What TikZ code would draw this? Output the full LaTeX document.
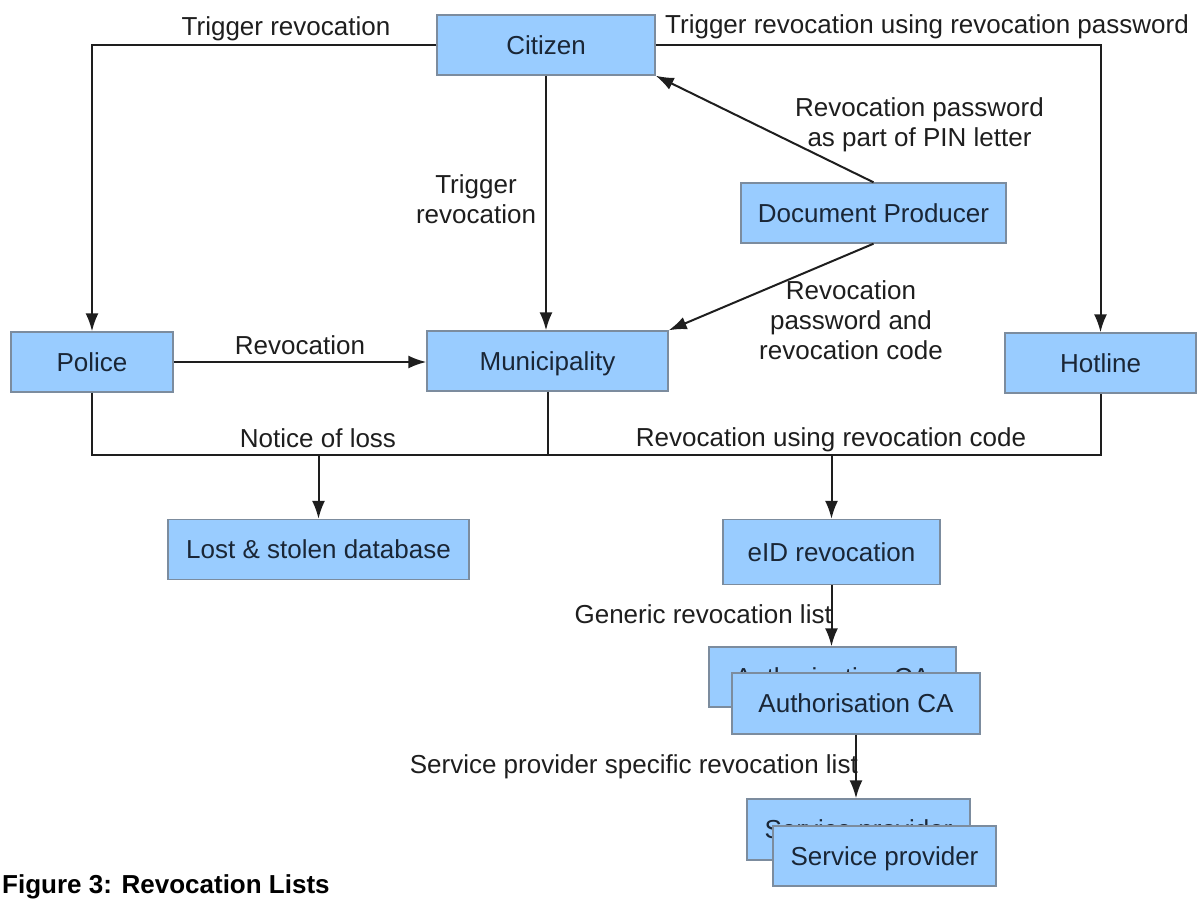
\documentclass[tikz,border=0pt]{standalone}
\usepackage{fontspec}
\setmainfont{Liberation Sans}
\usetikzlibrary{arrows.meta}
\definecolor{boxfill}{HTML}{99CCFF}
\definecolor{boxline}{HTML}{7C8C9E}
\definecolor{ink}{HTML}{1E1E1E}
\definecolor{boxink}{HTML}{1A2636}
\begin{document}
\begin{tikzpicture}[x=1pt,y=-1pt,
  box/.style={draw=boxline, fill=boxfill, line width=1.4pt, inner sep=0pt,
    text=boxink, font=\fontsize{26}{30}\selectfont, text height=18.7pt, text depth=0pt},
  conn/.style={draw=ink, line width=2pt},
  arr/.style={conn, -{Latex[length=18pt,width=13pt]}},
  lbl/.style={inner sep=0pt, text=ink, font=\fontsize{26}{30}\selectfont},
  mlbl/.style={lbl, align=center}]
\useasboundingbox (0,0) rectangle (1204,900);

% boxes
\node[box, minimum width=218pt, minimum height=60pt] (cit) at (546,45) {Citizen};
\node[box, minimum width=265pt, minimum height=60pt] (doc) at (873.5,213) {Document Producer};
\node[box, minimum width=162pt, minimum height=60pt] (pol) at (92,362) {Police};
\node[box, minimum width=241pt, minimum height=60pt] (mun) at (547.5,361) {Municipality};
\node[box, minimum width=191pt, minimum height=60pt] (hot) at (1100.5,363) {Hotline};
\node[box, minimum width=301pt, minimum height=60pt] (lost) at (318.5,549.5) {Lost \& stolen database};
\node[box, minimum width=217pt, minimum height=65pt] (eid) at (831.5,552) {eID revocation};
\node[box, minimum width=247pt, minimum height=60pt] (caA) at (832.5,677) {Authorisation CA};
\node[box, minimum width=248pt, minimum height=61pt] (caB) at (856,703.5) {Authorisation CA};
\node[box, minimum width=223pt, minimum height=61pt] (spA) at (858.5,829.5) {Service provider};
\node[box, minimum width=223pt, minimum height=60pt] (spB) at (884.5,856) {Service provider};

% bus coordinate
\coordinate (bus) at (0,455);

% connectors
\draw[arr] (cit.west) -| (pol.north);
\draw[arr] (cit.east) -| (hot.north);
\draw[arr] (cit.south) -- (cit.south |- mun.north);
\draw[arr] (doc.north) -- (cit.south east);
\draw[arr] (doc.south) -- (mun.north east);
\draw[arr] (pol.east) -- (pol.east -| mun.west);
\draw[conn] (pol.south) |- (hot.south |- bus) -- (hot.south);
\draw[conn] (mun.south) -- (mun.south |- bus);
\draw[arr] (lost.north |- bus) -- (lost.north);
\draw[arr] (eid.north |- bus) -- (eid.north);
\draw[arr] (eid.south) -- (eid.south |- caA.north);
\draw[arr] (caB.south) -- (caB.south |- spA.north);

% labels
\node[lbl, anchor=base] (l1) at (286,35) {Trigger revocation};
\node[lbl, anchor=base west] (l2) at (665,33) {Trigger revocation using revocation password};
\node[mlbl] (l3) at (476,199.5) {Trigger\\revocation};
\node[mlbl] (l4) at (919.5,125) {Revocation password\\as part of PIN letter};
\node[mlbl] (l5) at (851,320.5) {Revocation\\password and\\revocation code};
\node[lbl, anchor=base] (l6) at (300,354) {Revocation};
\node[lbl, anchor=base] (l7) at (318,447) {Notice of loss};
\node[lbl, anchor=base] (l8) at (831,446) {Revocation using revocation code};
\node[lbl, anchor=base east] (l9) at (832,623) {Generic revocation list};
\node[lbl, anchor=base east] (l10) at (858,773) {Service provider specific revocation list};

% caption
\node[lbl, anchor=base west, font=\fontsize{26}{30}\selectfont\bfseries, text=black] (cap) at (2,893) {Figure 3: Revocation Lists};
\end{tikzpicture}
\end{document}
